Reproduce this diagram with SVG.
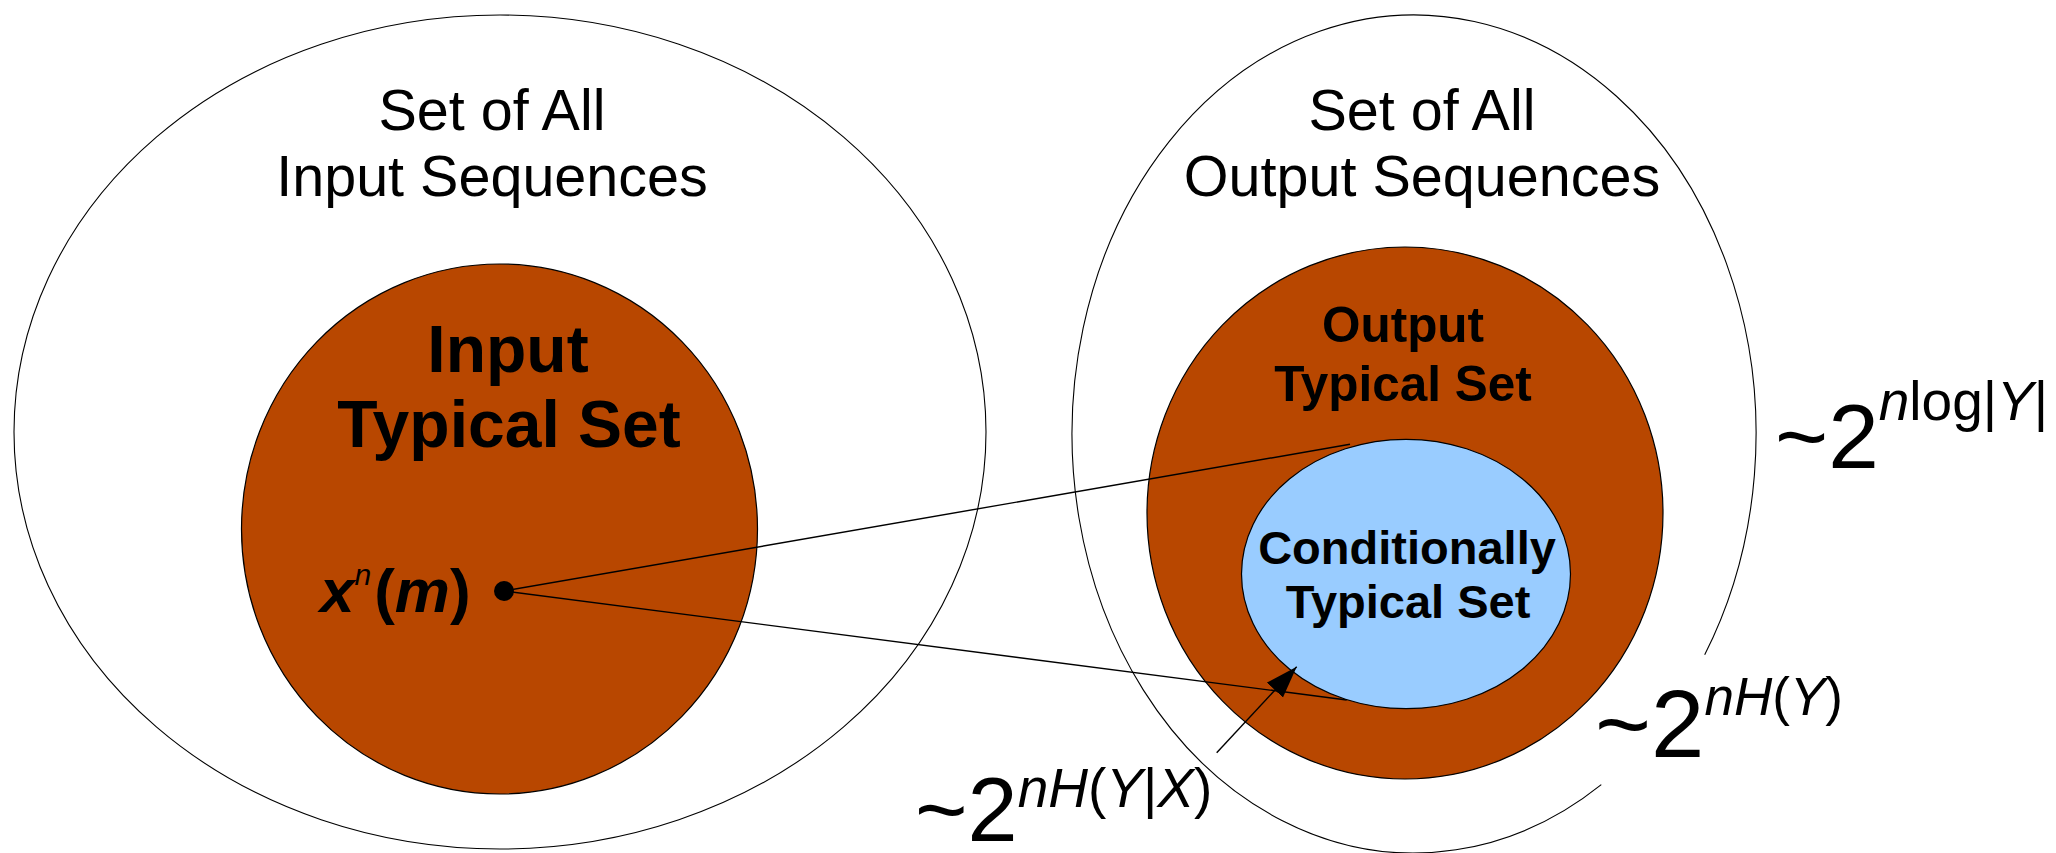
<svg xmlns="http://www.w3.org/2000/svg" width="2056" height="853" viewBox="0 0 2056 853">
  <defs>
    <style>
      .outer { fill: none; stroke: #000; stroke-width: 1.1; }
      .typical { fill: #b84700; stroke: #000; stroke-width: 1.2; }
      .cond { fill: #99ccff; stroke: #000; stroke-width: 1.2; }
      .title { font-family: "Liberation Sans", Arial, sans-serif; font-size: 57.5px; fill: #000; text-anchor: middle; }
      .bold { font-family: "Liberation Sans", Arial, sans-serif; font-weight: bold; fill: #000; text-anchor: middle; }
      .math { font-family: "Liberation Sans", Arial, sans-serif; fill: #000; }
      .it { font-style: italic; }
      .conn { stroke: #000; stroke-width: 1.4; fill: none; }
    </style>
    <marker id="arrowhead" markerUnits="userSpaceOnUse" markerWidth="34" markerHeight="24" refX="32" refY="11" orient="auto">
      <path d="M0,0 L32,11 L0,22 z" fill="#000"/>
    </marker>
  </defs>

  <rect x="0" y="0" width="2056" height="853" fill="#fff"/>

  <!-- set of all input sequences -->
  <g id="input-all">
    <ellipse class="outer" cx="500" cy="432" rx="486" ry="417"/>
    <text class="title" x="492" y="130">Set of All</text>
    <text class="title" x="492" y="196">Input Sequences</text>
  </g>

  <!-- set of all output sequences (outline broken behind the nH(Y) label) -->
  <g id="output-all">
    <path class="outer" d="M1601.3,784.6 A342,419 0 1 1 1704.7,654.8"/>
    <text class="title" x="1422" y="130">Set of All</text>
    <text class="title" x="1422" y="196">Output Sequences</text>
  </g>

  <!-- input typical set -->
  <g id="input-typical">
    <ellipse class="typical" cx="499.5" cy="529" rx="258" ry="265"/>
    <text class="bold" x="508" y="372" font-size="66">Input</text>
    <text class="bold" x="509" y="447" font-size="66">Typical Set</text>
    <text class="math" x="320" y="612" font-size="62" font-weight="bold"><tspan class="it">x</tspan><tspan dy="-27" font-size="30" class="it" font-weight="normal">n</tspan><tspan dy="27" dx="3">(</tspan><tspan class="it">m</tspan>)</text>
    <circle cx="504" cy="591" r="10" fill="#000"/>
  </g>

  <!-- output typical set -->
  <g id="output-typical">
    <ellipse class="typical" cx="1405" cy="513" rx="258" ry="266"/>
    <text class="bold" x="1403" y="342" font-size="49.5">Output</text>
    <text class="bold" x="1403" y="401" font-size="49.5">Typical Set</text>
  </g>

  <!-- conditionally typical set -->
  <g id="conditional-typical">
    <ellipse class="cond" cx="1406" cy="574" rx="164.5" ry="134.7"/>
    <text class="bold" x="1407" y="564" font-size="47">Conditionally</text>
    <text class="bold" x="1408" y="618" font-size="47">Typical Set</text>
  </g>

  <!-- connectors -->
  <g id="connectors">
    <line class="conn" x1="504" y1="591" x2="1350" y2="444.3"/>
    <line class="conn" x1="504" y1="591" x2="1346.7" y2="700"/>
    <line class="conn" x1="1216.7" y1="752.7" x2="1296.7" y2="666.7" marker-end="url(#arrowhead)"/>
  </g>

  <!-- size labels -->
  <g id="size-all">
    <text class="math" x="1775" y="468" font-size="91">~2<tspan dy="-48" font-size="55"><tspan class="it">n</tspan>log|<tspan class="it">Y</tspan>|</tspan></text>
  </g>
  <g id="size-typical">
    <text class="math" x="1595" y="757" font-size="96">~2<tspan dy="-42" font-size="53"><tspan class="it">nH</tspan>(<tspan class="it">Y</tspan>)</tspan></text>
  </g>
  <g id="size-conditional">
    <text class="math" x="915" y="841" font-size="90">~2<tspan dy="-34" font-size="55"><tspan class="it">nH</tspan>(<tspan class="it">Y</tspan>|<tspan class="it">X</tspan>)</tspan></text>
  </g>
</svg>
